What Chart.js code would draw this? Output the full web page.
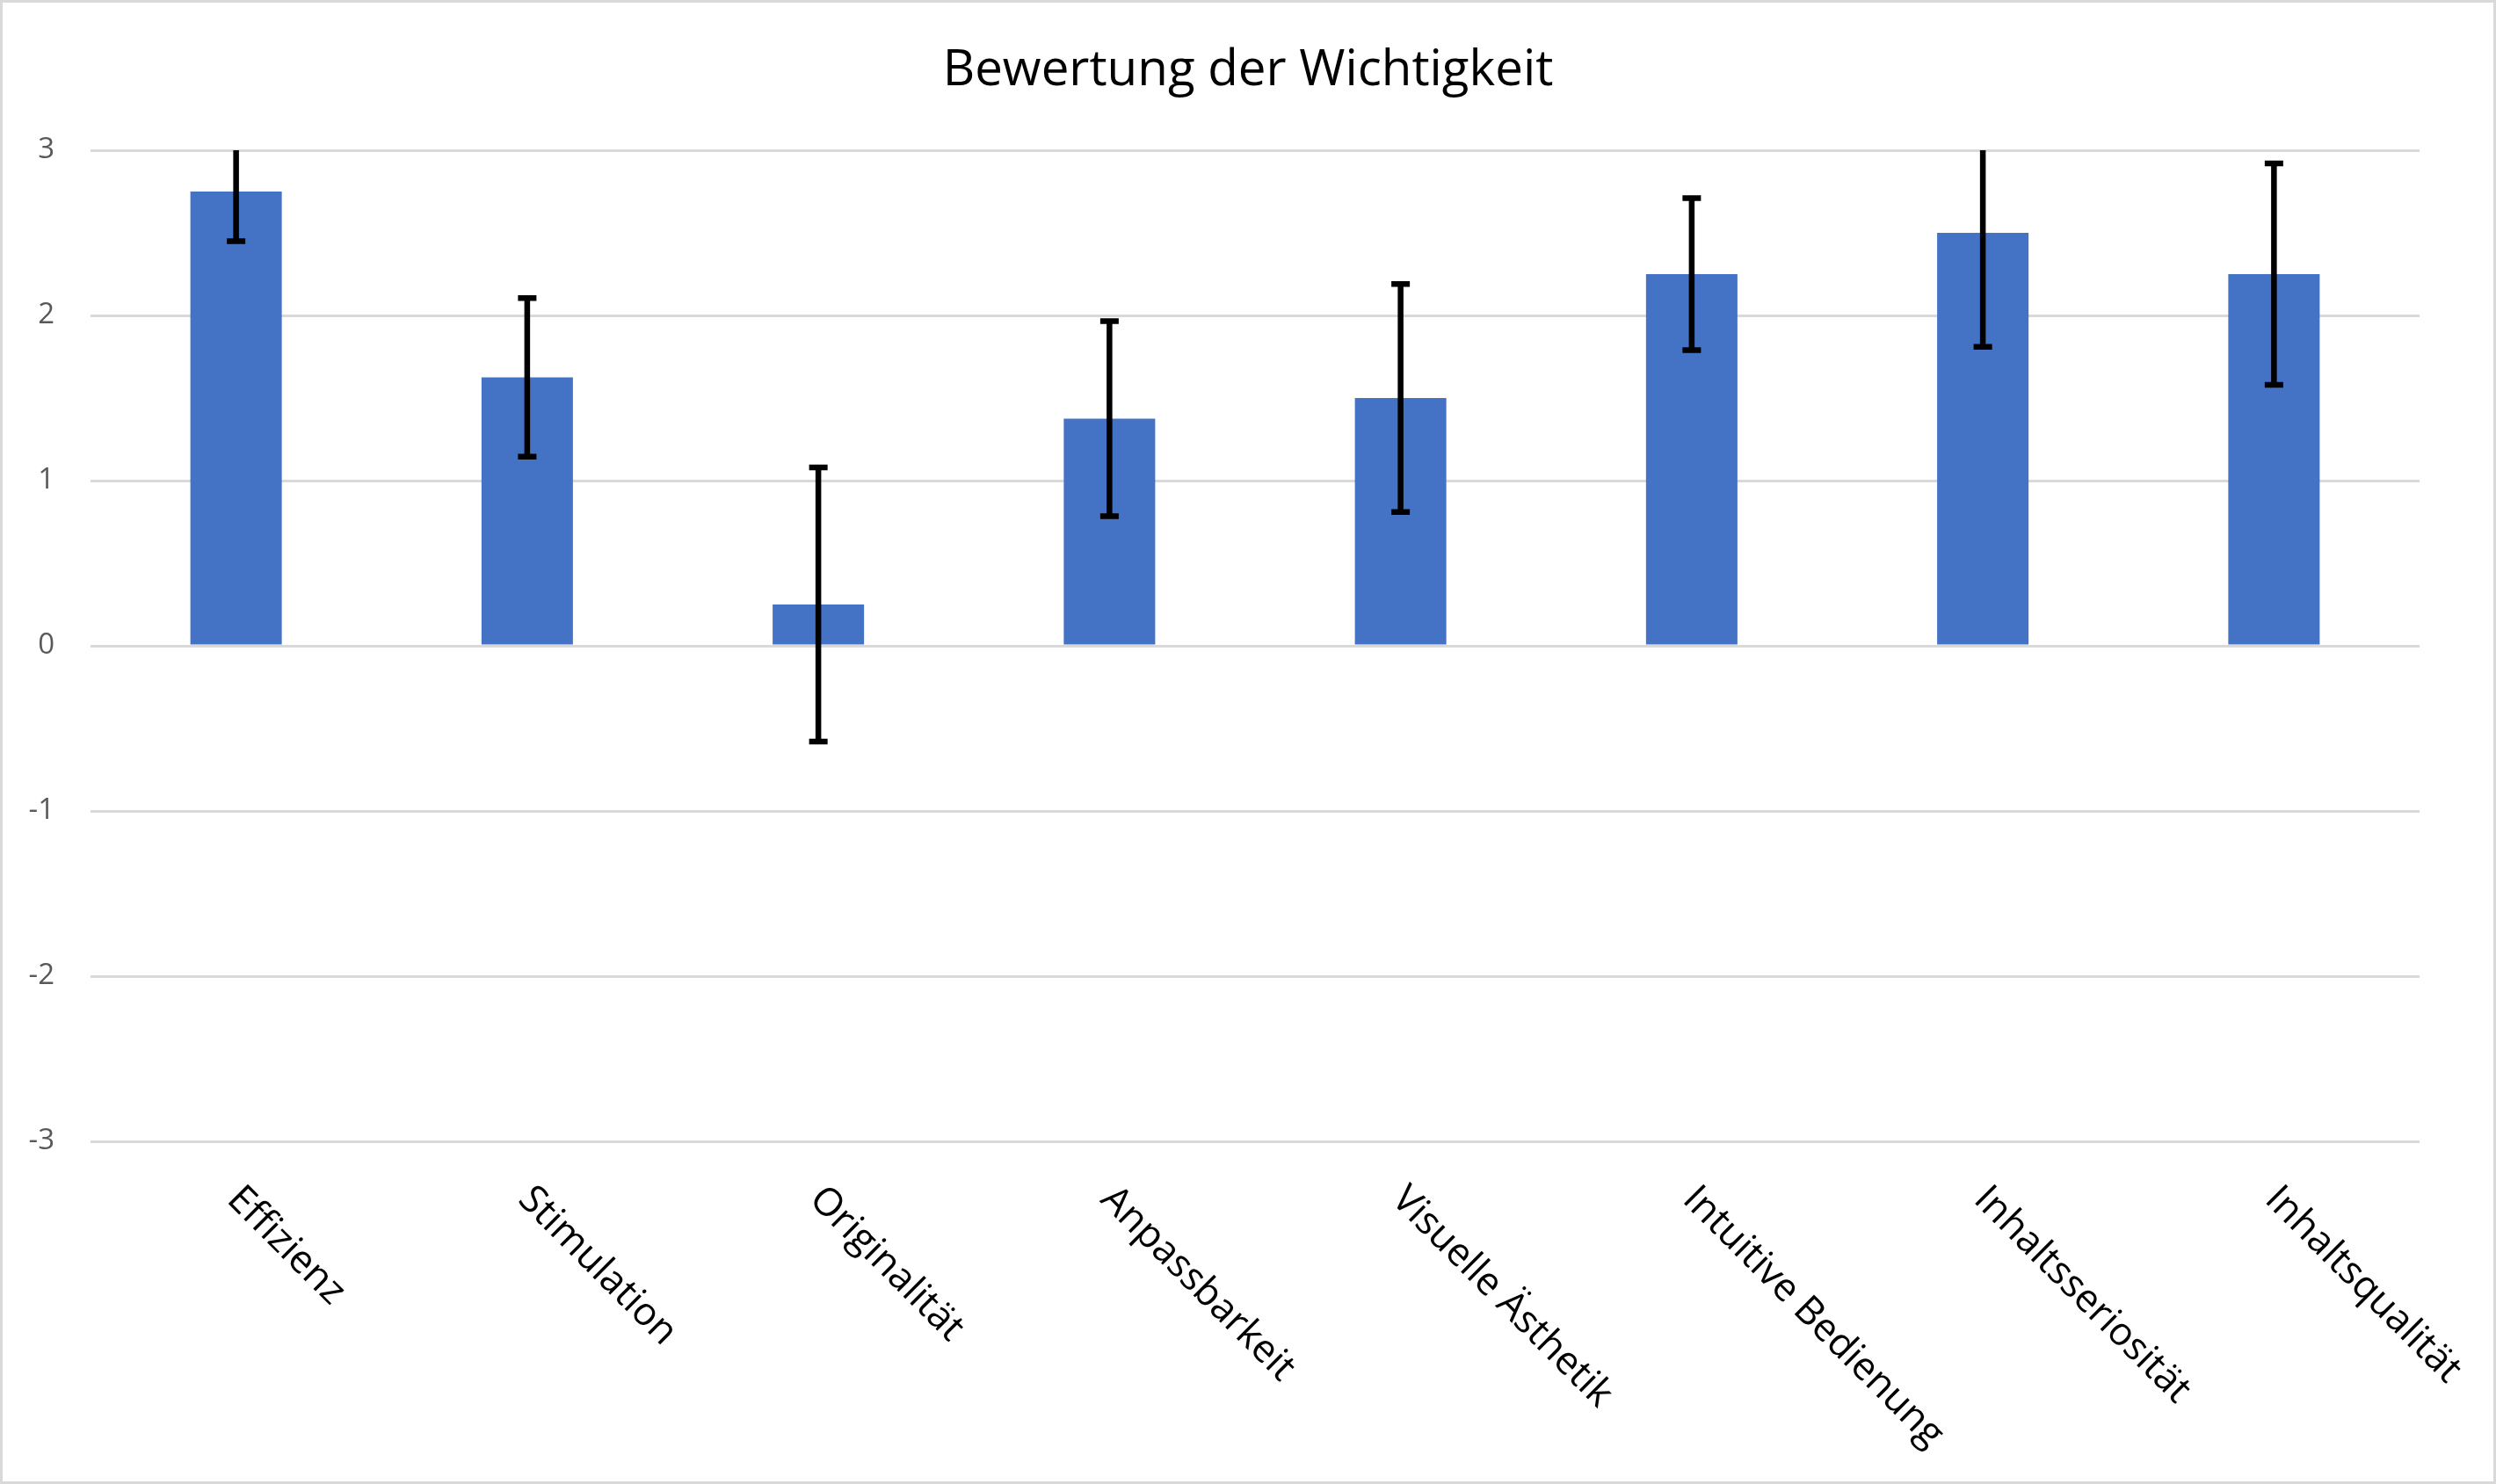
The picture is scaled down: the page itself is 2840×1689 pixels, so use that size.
<!DOCTYPE html>
<html>
<head>
<meta charset="utf-8">
<script src="https://cdn.jsdelivr.net/npm/chart.js@4/dist/chart.umd.min.js"></script>
<style>
html,body{margin:0;padding:0;background:#fff;}
#wrap{width:2840px;height:1689px;position:relative;}
</style>
</head>
<body>
<div id="wrap"><canvas id="c" width="2840" height="1689"></canvas></div>
<script>
// ---- data ----
const chartTitle = 'Bewertung der Wichtigkeit';
const categories = ['Effizienz', 'Stimulation', 'Originalität', 'Anpassbarkeit', 'Visuelle Ästhetik', 'Intuitive Bedienung', 'Inhaltsseriosität', 'Inhaltsqualität'];
const means = [2.75, 1.625, 0.25, 1.375, 1.5, 2.25, 2.5, 2.25];
const errors = [0.30, 0.48, 0.83, 0.59, 0.69, 0.46, 0.69, 0.67];
const yTicks = [-3, -2, -1, 0, 1, 2, 3];

// ---- styles ----
const FONT = "'Open Sans', 'Noto Sans', sans-serif";
const BAR_COLOR = '#4472C4';
const GRID_COLOR = '#D9D9D9';

const bgBorderPlugin = {
  id: 'bgBorder',
  beforeDraw(chart) {
    const ctx = chart.ctx;
    ctx.save();
    ctx.fillStyle = '#ffffff';
    ctx.fillRect(0, 0, chart.width, chart.height);
    ctx.restore();
  },
  afterDraw(chart) {
    const ctx = chart.ctx;
    ctx.save();
    ctx.strokeStyle = GRID_COLOR;
    ctx.lineWidth = 3;
    ctx.strokeRect(1.5, 1.5, chart.width - 3, chart.height - 3);
    // title, centred on the full canvas
    ctx.fillStyle = '#000000';
    ctx.font = '56.5px ' + FONT;
    ctx.textAlign = 'center';
    ctx.textBaseline = 'alphabetic';
    ctx.fillText(chartTitle, chart.width / 2, 97);
    ctx.restore();
  }
};

const errorBarPlugin = {
  id: 'errorBars',
  afterDatasetsDraw(chart) {
    const ctx = chart.ctx;
    const y = chart.scales.y;
    const meta = chart.getDatasetMeta(0);
    const area = chart.chartArea;
    ctx.save();
    ctx.beginPath();
    ctx.rect(area.left, area.top, area.right - area.left, area.bottom - area.top);
    ctx.clip();
    ctx.strokeStyle = '#000000';
    ctx.lineWidth = 6.5;
    ctx.lineCap = 'butt';
    meta.data.forEach((bar, i) => {
      const x = bar.x;
      const yHi = y.getPixelForValue(means[i] + errors[i]);
      const yLo = y.getPixelForValue(means[i] - errors[i]);
      ctx.beginPath();
      ctx.moveTo(x, yHi);
      ctx.lineTo(x, yLo);
      ctx.moveTo(x - 10.5, yHi);
      ctx.lineTo(x + 10.5, yHi);
      ctx.moveTo(x - 10.5, yLo);
      ctx.lineTo(x + 10.5, yLo);
      ctx.stroke();
    });
    ctx.restore();
  }
};

const xLabelPlugin = {
  id: 'xLabels',
  afterDraw(chart) {
    const ctx = chart.ctx;
    const xs = chart.scales.x;
    const top = chart.chartArea.bottom;
    ctx.save();
    ctx.fillStyle = '#000000';
    ctx.font = '44px ' + FONT;
    ctx.textAlign = 'left';
    ctx.textBaseline = 'alphabetic';
    categories.forEach((lab, i) => {
      const x = xs.getPixelForTick(i);
      ctx.save();
      ctx.translate(x - 12, top + 68);
      ctx.rotate(Math.PI / 4);
      ctx.fillText(lab, 0, 0);
      ctx.restore();
    });
    ctx.restore();
  }
};

new Chart(document.getElementById('c'), {
  type: 'bar',
  data: {
    labels: categories,
    datasets: [{
      data: means,
      backgroundColor: BAR_COLOR,
      borderWidth: 0,
      categoryPercentage: 1.0,
      barPercentage: 0.314
    }]
  },
  options: {
    responsive: false,
    animation: false,
    devicePixelRatio: 1,
    layout: { padding: { left: 0, right: 87, top: 171, bottom: 0 } },
    plugins: {
      legend: { display: false },
      tooltip: { enabled: false },
      title: { display: false }
    },
    scales: {
      x: {
        grid: { display: false, drawTicks: false },
        border: { display: false },
        ticks: { display: false },
        afterFit(s) { s.height = 390; }
      },
      y: {
        min: -3,
        max: 3,
        afterBuildTicks(s) { s.ticks = yTicks.map(v => ({ value: v })); },
        grid: { color: GRID_COLOR, lineWidth: 3, drawTicks: false },
        border: { display: false },
        ticks: {
          color: '#595959',
          padding: 41,
          font: { family: FONT, size: 33 }
        },
        afterFit(s) { s.width = 103; }
      }
    }
  },
  plugins: [bgBorderPlugin, errorBarPlugin, xLabelPlugin]
});
</script>
</body>
</html>
